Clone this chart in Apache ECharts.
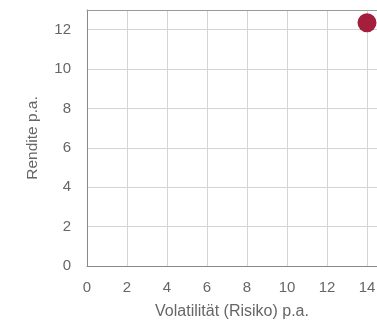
<!DOCTYPE html>
<html>
<head>
    <meta charset="utf-8">
    <title>Rendite / Risiko</title>
    <style>
        html, body { margin: 0; padding: 0; background: #fff; }
        #chart { width: 377px; height: 323px; }
    </style>
</head>
<body>
    <div id="chart"></div>
    <script src="https://cdn.jsdelivr.net/npm/echarts@6/dist/echarts.min.js"></script>
    <script>
        // Daten: Volatilität (x) und Rendite (y)
        var volatility = [14.0];
        var returns = [12.35];
        var xTicks = [0, 2, 4, 6, 8, 10, 12, 14];
        var yTicks = [0, 2, 4, 6, 8, 10, 12];

        var points = volatility.map(function (v, i) { return [v, returns[i]]; });

        var chart = echarts.init(document.getElementById('chart'));
        var labelFont = { color: '#666', fontSize: 15, fontFamily: 'Liberation Sans' };

        chart.setOption({
            animation: false,
            grid: { left: 87, top: 10, right: 0, bottom: 57, outerBoundsMode: 'none', containLabel: false },
            xAxis: [{
                type: 'value',
                min: xTicks[0],
                max: 14.5,
                interval: 2,
                name: 'Volatilität (Risiko) p.a.',
                nameLocation: 'middle',
                nameGap: 38,
                nameTextStyle: { color: '#666', fontSize: 16, fontFamily: 'Liberation Sans' },
                axisLine: { show: true, lineStyle: { color: '#888' } },
                axisTick: { show: false },
                axisLabel: Object.assign({ margin: 14, showMaxLabel: false }, labelFont),
                splitLine: { show: true, showMaxLine: false, lineStyle: { color: '#d4d4d4' } }
            }, {
                // obere Rahmenlinie
                type: 'value',
                position: 'top',
                min: 0,
                max: 14.5,
                axisLine: { show: true, lineStyle: { color: '#999' } },
                axisTick: { show: false },
                axisLabel: { show: false },
                splitLine: { show: false }
            }],
            yAxis: {
                type: 'value',
                min: yTicks[0],
                max: 13,
                interval: 2,
                name: 'Rendite p.a.',
                nameLocation: 'middle',
                nameGap: 46,
                nameTextStyle: { color: '#666', fontSize: 15.5, fontFamily: 'Liberation Sans' },
                axisLine: { show: true, lineStyle: { color: '#888' } },
                axisTick: { show: false },
                axisLabel: Object.assign({ margin: 16, showMaxLabel: false }, labelFont),
                splitLine: { show: true, lineStyle: { color: '#d4d4d4' } }
            },
            series: [{
                type: 'scatter',
                data: points,
                symbolSize: 19,
                itemStyle: { color: '#a51e3c', opacity: 1 }
            }]
        });
    </script>
</body>
</html>
